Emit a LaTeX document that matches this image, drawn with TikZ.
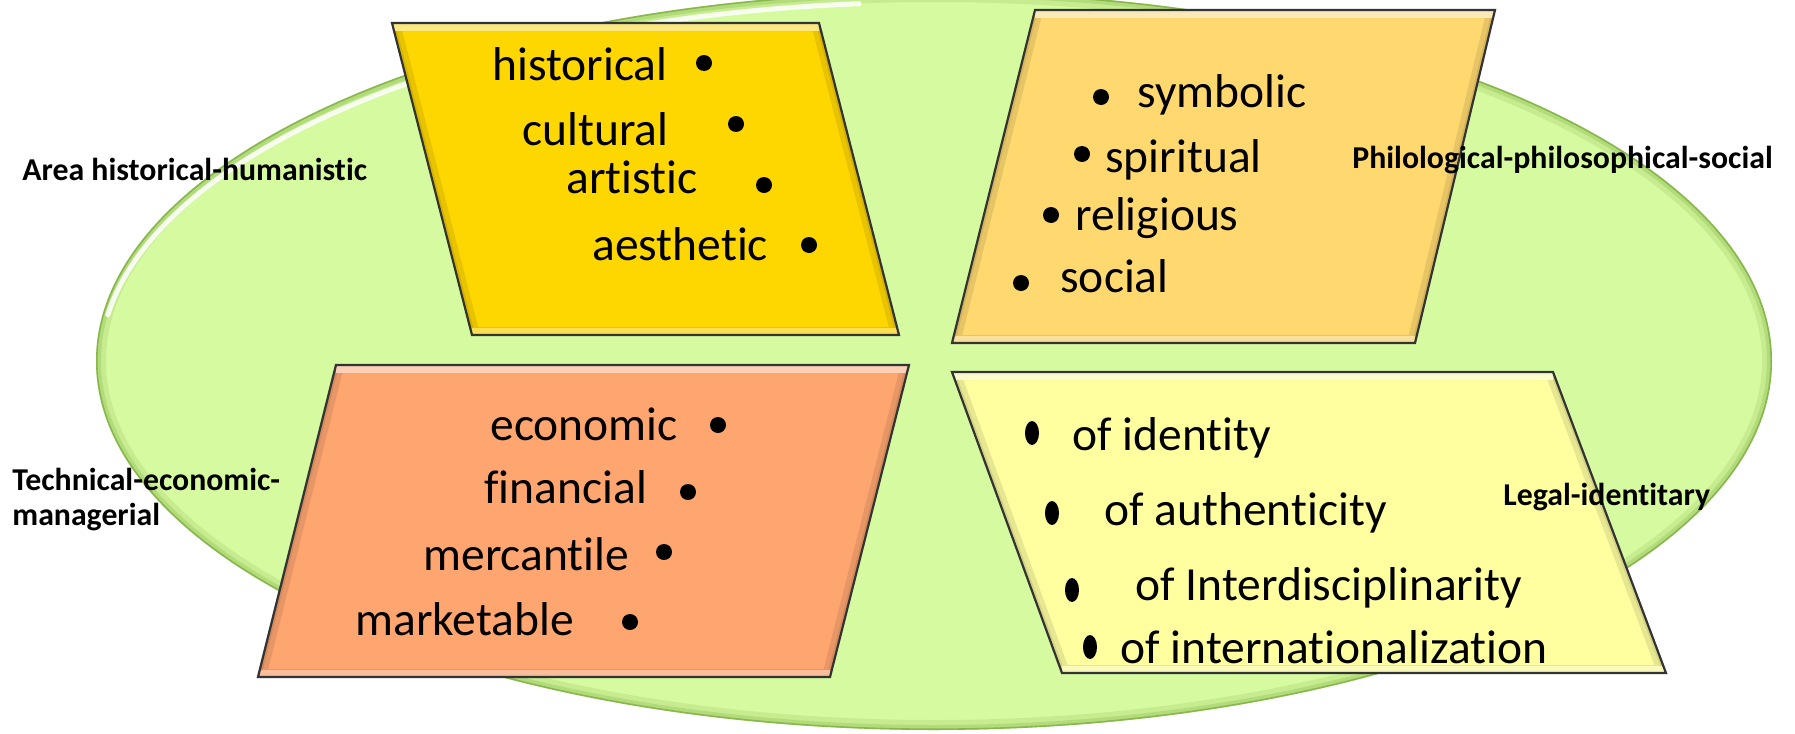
\documentclass[tikz,border=0pt]{standalone}
\usepackage{fontspec}
\setmainfont{Carlito}[Ligatures=NoCommon, RawFeature={-calt}]
\usetikzlibrary{shapes.geometric}

% A bevelled parallelogram panel: colour, then its corners (top left, top right, bottom right, bottom left)
\newcommand\drawpanel[5]{%
  \fill[#1] (#2) -- (#3) -- (#4) -- (#5) -- cycle;
  \begin{scope}
    \clip (#2) -- (#3) -- (#4) -- (#5) -- cycle;
    \draw[#1!70!black, line width=8pt, opacity=0.3, line join=miter] (#2) -- (#3) -- (#4) -- (#5) -- cycle;
    \draw[#1!70!black, line width=3pt, opacity=0.35, line join=miter] (#2) -- (#3) -- (#4) -- (#5) -- cycle;
    \draw[#1!40!white, line width=8pt, opacity=0.85] (#2) -- (#3);
    \draw[#1!60!white, line width=7pt, opacity=0.8] (#4) -- (#5);
  \end{scope}
  \draw[black!80, line width=1.1pt, line join=miter] (#2) -- (#3) -- (#4) -- (#5) -- cycle;
}

\begin{document}
\begin{tikzpicture}[x=0.5pt,y=-0.5pt]
\definecolor{oval}{RGB}{214,250,160}
\definecolor{ovaledge}{RGB}{110,160,50}
\definecolor{goldbox}{RGB}{255,215,0}
\definecolor{amberbox}{RGB}{255,217,112}
\definecolor{salmonbox}{RGB}{255,165,112}
\definecolor{palebox}{RGB}{255,255,160}
\tikzset{
  item/.style={anchor=base west, inner sep=0pt, font=\fontsize{23.75pt}{28pt}\selectfont},
  area/.style={anchor=base west, inner sep=0pt, font=\fontsize{15.9pt}{17.5pt}\selectfont\bfseries},
  dot/.style={circle, fill=black, draw=none, inner sep=0pt, minimum size=8pt},
  talldot/.style={ellipse, fill=black, draw=none, inner sep=0pt, minimum width=7pt, minimum height=12pt},
}
\useasboundingbox (0,0) rectangle (1795,734);
\fill[white] (0,0) rectangle (1795,734);

% the large green oval with an inner shadow and a gloss highlight
\coordinate (oc) at (934,361);
\fill[oval] (oc) ellipse [x radius=419pt, y radius=184.5pt];
\begin{scope}
  \clip (oc) ellipse [x radius=419pt, y radius=184.5pt];
  \draw[ovaledge, line width=10pt, opacity=0.15] (oc) ellipse [x radius=419pt, y radius=184.5pt];
  \draw[ovaledge, line width=5pt, opacity=0.22] (oc) ellipse [x radius=419pt, y radius=184.5pt];
  \draw[ovaledge, line width=1.6pt, opacity=0.6] (oc) ellipse [x radius=419pt, y radius=184.5pt];
  % gloss along the upper left rim: starts at 172 degrees on an ellipse inset by 6px
  \draw[white, line width=2.5pt, opacity=0.85, line cap=round] (107.8,314.8)
    arc [start angle=172, end angle=95, x radius=416pt, y radius=181.5pt];
\end{scope}

% panel corners
\coordinate (a1) at (392,23);   \coordinate (b1) at (819,23);
\coordinate (c1) at (899,335);  \coordinate (d1) at (472,335);
\coordinate (a2) at (1035,10);  \coordinate (b2) at (1495,10);
\coordinate (c2) at (1415,343); \coordinate (d2) at (952,343);
\coordinate (a3) at (336,365);  \coordinate (b3) at (909,365);
\coordinate (c3) at (830,677);  \coordinate (d3) at (258,677);
\coordinate (a4) at (952,372);  \coordinate (b4) at (1553,372);
\coordinate (c4) at (1666,673); \coordinate (d4) at (1062,673);

\drawpanel{goldbox}{a1}{b1}{c1}{d1}
\drawpanel{amberbox}{a2}{b2}{c2}{d2}
\drawpanel{salmonbox}{a3}{b3}{c3}{d3}
\drawpanel{palebox}{a4}{b4}{c4}{d4}

% historical-humanistic values
\node[item] (hist) at (492,80) {historical};
\node[item] (cult) at (522,145) {cultural};
\node[item] (art) at (566,193) {artistic};
\node[item] (aes) at (592,260) {aesthetic};
\node[dot] (hb1) at (704,63) {};
\node[dot] (hb2) at (736,124) {};
\node[dot] (hb3) at (764,185) {};
\node[dot] (hb4) at (809,245) {};

% philological-philosophical-social values
\node[item] (sym) at (1137,107) {symbolic};
\node[item] (spi) at (1105,172) {spiritual};
\node[item] (rel) at (1075,230) {religious};
\node[item] (soc) at (1060,292) {social};
\node[dot] (pb1) at (1101,97) {};
\node[dot] (pb2) at (1082,154) {};
\node[dot] (pb3) at (1051,215) {};
\node[dot] (pb4) at (1021,283) {};

% technical-economic-managerial values
\node[item] (eco) at (490,440) {economic};
\node[item] (fin) at (484,503) {financial};
\node[item] (mer) at (423,570) {mercantile};
\node[item] (mkt) at (355,635) {marketable};
\node[dot] (tb1) at (718,425) {};
\node[dot] (tb2) at (688,492) {};
\node[dot] (tb3) at (664,552) {};
\node[dot] (tb4) at (630,622) {};

% legal-identitary values
\node[item] (ide) at (1072,450) {of identity};
\node[item] (aut) at (1104,525) {of authenticity};
\node[item] (int) at (1135,600) {of Interdisciplinarity};
\node[item] (itn) at (1120,663) {of internationalization};
\node[talldot] (lb1) at (1032,433) {};
\node[talldot] (lb2) at (1052,513) {};
\node[talldot] (lb3) at (1072,590) {};
\node[talldot] (lb4) at (1090,647) {};

% area labels
\node[area] (areaH) at (22,180) {Area historical-humanistic};
\node[area] (areaP) at (1352,168) {Philological-philosophical-social};
\node[area] (areaT1) at (12,490) {Technical-economic-};
\node[area] (areaT2) at (12,525) {managerial};
\node[area] (areaL) at (1503,505) {Legal-identitary};
\end{tikzpicture}
\end{document}
